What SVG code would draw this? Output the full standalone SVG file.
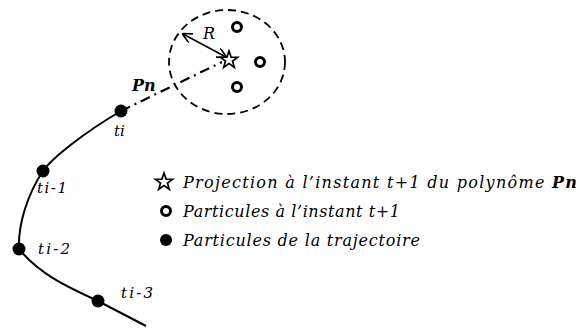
<svg xmlns="http://www.w3.org/2000/svg" width="579" height="328" viewBox="0 0 579 328">
<style>
.t{font-family:"DejaVu Serif","Liberation Serif",serif;font-style:italic;font-size:16px;fill:#000}
.l{font-size:15px}
.b{font-weight:bold}
.traj{fill:#000}
.part{fill:#fff;stroke:#000;stroke-width:3}
.star{fill:#fff;stroke:#000;stroke-width:1.7;stroke-linejoin:miter}
</style>
<defs>
<marker id="ah" viewBox="0 0 10 10" refX="9" refY="5" markerWidth="10" markerHeight="10" markerUnits="userSpaceOnUse" orient="auto-start-reverse">
<path d="M0,0 L10,5 L0,10" fill="none" stroke="#000" stroke-width="1.6"/>
</marker>
<path id="st" d="M0,-9 L2.1,-2.9 L8.6,-2.8 L3.5,1.1 L5.3,7.3 L0,3.6 L-5.3,7.3 L-3.5,1.1 L-8.6,-2.8 L-2.1,-2.9 Z"/>
</defs>
<g id="connectors" fill="none" stroke="#000">
<path id="trajectory" d="M121,111 C85,132 52,158 43,171 C27,195 18,225 19,249 C40,275 70,288 98,301 L146,326" stroke-width="2"/>
<path id="projection" d="M121,111 L222,62" stroke-width="2.2" stroke-dasharray="10 5 2 5"/>
<ellipse id="search-zone" cx="227" cy="62" rx="58" ry="52" stroke-width="1.8" stroke-dasharray="8 5"/>
<path id="radius" d="M226,57 L183,34" stroke-width="1.6" marker-start="url(#ah)" marker-end="url(#ah)"/>
</g>
<g id="node-ti"><circle class="traj" cx="121" cy="111" r="6.5"/><text class="t l" x="114" y="136">ti</text></g>
<g id="node-ti-1"><circle class="traj" cx="43" cy="171" r="6.5"/><text class="t l" x="37" y="193" textLength="30">ti-1</text></g>
<g id="node-ti-2"><circle class="traj" cx="19" cy="249" r="6.5"/><text class="t l" x="38" y="254" textLength="32">ti-2</text></g>
<g id="node-ti-3"><circle class="traj" cx="98" cy="301" r="6.5"/><text class="t l" x="121" y="298" textLength="32">ti-3</text></g>
<g id="label-pn"><text class="t b" x="132" y="91">Pn</text></g>
<g id="label-r"><text class="t" x="203" y="39">R</text></g>
<g id="projected-point"><use href="#st" class="star" x="229" y="60"/></g>
<g id="particle-1"><circle class="part" cx="237" cy="27" r="4.5"/></g>
<g id="particle-2"><circle class="part" cx="260" cy="62" r="4.5"/></g>
<g id="particle-3"><circle class="part" cx="237" cy="87" r="4.5"/></g>
<g id="legend">
<use href="#st" class="star" x="164" y="182"/>
<text class="t" x="183" y="188" textLength="394" lengthAdjust="spacing">Projection à l’instant t+1 du polynôme <tspan class="b">Pn</tspan></text>
<circle class="part" cx="166" cy="211" r="4.5"/>
<text class="t" x="183" y="217" textLength="217" lengthAdjust="spacing">Particules à l’instant t+1</text>
<circle class="traj" cx="166" cy="240" r="6"/>
<text class="t" x="183" y="246" textLength="237" lengthAdjust="spacing">Particules de la trajectoire</text>
</g>
</svg>
